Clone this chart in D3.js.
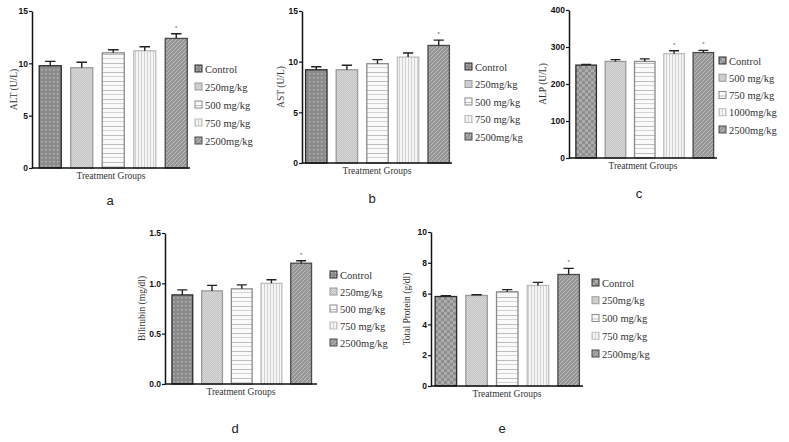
<!DOCTYPE html>
<html>
<head>
<meta charset="utf-8">
<script src="https://cdn.jsdelivr.net/npm/d3@7"></script>
<style>
  body { margin: 0; background: #fff; }
  .tick text { font-family: "Liberation Sans", Arial, sans-serif; font-weight: bold; font-size: 8.5px; fill: #111; }
  .axlabel { font-family: "Liberation Serif", "Times New Roman", serif; font-size: 9.5px; fill: #333; }
  .legend text { font-family: "Liberation Serif", "Times New Roman", serif; font-size: 10.5px; fill: #333; }
  .letter { font-family: "Liberation Sans", Arial, sans-serif; font-size: 13px; fill: #222; }
</style>
</head>
<body>
<div class="chart"></div>
<script>
// values (mean, SEM)
var groups = ["g1", "g2", "g3", "g4", "g5"];
var legendMain = ["Control", "250mg/kg", "500 mg/kg", "750 mg/kg", "2500mg/kg"];
var legendALP = ["Control", "500 mg/kg", "750 mg/kg", "1000mg/kg", "2500mg/kg"];

var altMean = [9.77, 9.58, 11.0, 11.2, 12.38];
var altSem = [0.42, 0.52, 0.3, 0.38, 0.44];
var altTicks = [0, 5, 10, 15];

var astMean = [9.2, 9.2, 9.8, 10.45, 11.6];
var astSem = [0.3, 0.45, 0.4, 0.4, 0.53];
var astTicks = [0, 5, 10, 15];

var alpMean = [251, 261, 261, 282, 285];
var alpSem = [2, 5, 7, 8, 6];
var alpTicks = [0, 100, 200, 300, 400];

var bilMean = [0.885, 0.925, 0.945, 1.0, 1.2];
var bilSem = [0.05, 0.055, 0.04, 0.035, 0.025];
var bilTicks = [0, 0.5, 1.0, 1.5];

var tpMean = [5.81, 5.88, 6.12, 6.53, 7.24];
var tpSem = [0.05, 0.05, 0.14, 0.2, 0.4];
var tpTicks = [0, 2, 4, 6, 8, 10];

var svg = d3.select(".chart").append("svg")
    .attr("width", 789)
    .attr("height", 442);

// fill patterns
var defs = svg.append("defs");

function pat(id, w, h, bg) {
    var p = defs.append("pattern")
        .attr("id", id)
        .attr("patternUnits", "userSpaceOnUse")
        .attr("width", w)
        .attr("height", h);
    p.append("rect").attr("width", w).attr("height", h).attr("fill", bg);
    return p;
}

var dots = pat("dots", 4, 4, "#8b8b8b");
dots.append("rect").attr("x", 1).attr("y", 1).attr("width", 1.5).attr("height", 1.5).attr("fill", "#b8b8b8");

var checker = pat("checker", 6, 6, "#8e8e8e");
checker.append("rect").attr("width", 3).attr("height", 3).attr("fill", "#acacac");
checker.append("rect").attr("x", 3).attr("y", 3).attr("width", 3).attr("height", 3).attr("fill", "#acacac");

var fine = pat("fine", 2, 2, "#c4c4c4");
fine.append("rect").attr("width", 1).attr("height", 1).attr("fill", "#d8d8d8");
fine.append("rect").attr("x", 1).attr("y", 1).attr("width", 1).attr("height", 1).attr("fill", "#d8d8d8");

var horiz = pat("horiz", 6, 9, "#fafafa");
horiz.append("rect").attr("y", 0).attr("width", 6).attr("height", 1).attr("fill", "#bdbdbd");
horiz.append("rect").attr("y", 4).attr("width", 6).attr("height", 1).attr("fill", "#d4d4d4");

var vert = pat("vert", 3, 6, "#f6f6f6");
vert.append("rect").attr("x", 0).attr("width", 1).attr("height", 6).attr("fill", "#d0d0d0");

var hatch = pat("hatch", 4, 4, "#979797");
hatch.append("path")
    .attr("d", "M-1,1 l2,-2 M0,4 l4,-4 M3,5 l2,-2")
    .attr("stroke", "#bcbcbc")
    .attr("stroke-width", 1);

var strokes = ["#2a2a2a", "#9a9a9a", "#8a8a8a", "#bdbdbd", "#4a4a4a"];

function drawPanel(cfg) {
    var g = svg.append("g");

    var x = d3.scaleBand()
        .domain(groups)
        .range([cfg.bx0, cfg.bx1])
        .paddingInner(0.3)
        .paddingOuter(0.15);

    var y = d3.scaleLinear()
        .domain([0, cfg.ticks[cfg.ticks.length - 1]])
        .range([cfg.yb, cfg.yt]);

    var data = groups.map(function(k, i) {
        return {key: k, mean: cfg.mean[i], sem: cfg.sem[i], fill: cfg.fills[i], stroke: strokes[i], star: cfg.stars.indexOf(i) >= 0};
    });

    // bars
    g.selectAll(".bar")
        .data(data)
        .enter()
        .append("rect")
        .attr("class", "bar")
        .attr("x", function(d) { return x(d.key); })
        .attr("width", x.bandwidth())
        .attr("y", function(d) { return y(d.mean); })
        .attr("height", function(d) { return cfg.yb - y(d.mean); })
        .attr("fill", function(d) { return "url(#" + d.fill + ")"; })
        .attr("stroke", function(d) { return d.stroke; })
        .attr("stroke-width", 1.3);

    // error bars (upper only)
    var cap = x.bandwidth() * 0.24;
    g.selectAll(".err")
        .data(data)
        .enter()
        .append("path")
        .attr("class", "err")
        .attr("d", function(d) {
            var cx = x(d.key) + x.bandwidth() / 2;
            return "M" + cx + "," + y(d.mean) + "V" + y(d.mean + d.sem) +
                "M" + (cx - cap) + "," + y(d.mean + d.sem) + "H" + (cx + cap);
        })
        .attr("fill", "none")
        .attr("stroke", "#222")
        .attr("stroke-width", 1.4);

    g.selectAll(".star")
        .data(data.filter(function(d) { return d.star; }))
        .enter()
        .append("text")
        .attr("class", "star")
        .attr("x", function(d) { return x(d.key) + x.bandwidth() / 2; })
        .attr("y", function(d) { return y(d.mean + d.sem) - 4; })
        .attr("text-anchor", "middle")
        .style("font-family", "Liberation Sans, sans-serif")
        .style("font-size", "6px")
        .attr("fill", "#555")
        .text("*");

    // axes
    var yAxis = d3.axisLeft(y)
        .tickValues(cfg.ticks)
        .tickFormat(cfg.fmt)
        .tickSize(3)
        .tickSizeOuter(0)
        .tickPadding(1);

    var yAxisGroup = g.append("g")
        .attr("class", "axis y-axis")
        .attr("transform", "translate(" + cfg.ax + ",0)")
        .call(yAxis);
    yAxisGroup.select(".domain").attr("stroke", "#111").attr("stroke-width", 1.5);
    yAxisGroup.selectAll(".tick line").attr("stroke", "#111").attr("stroke-width", 1.2);

    g.append("line")
        .attr("x1", cfg.ax)
        .attr("x2", cfg.axEnd)
        .attr("y1", cfg.yb)
        .attr("y2", cfg.yb)
        .attr("stroke", "#111")
        .attr("stroke-width", 1.5);

    g.append("text")
        .attr("class", "axlabel")
        .attr("transform", "translate(" + cfg.ylx + "," + ((cfg.yt + cfg.yb) / 2) + ") rotate(-90)")
        .attr("text-anchor", "middle")
        .text(cfg.ylabel);

    g.append("text")
        .attr("class", "axlabel")
        .attr("x", (cfg.ax + cfg.axEnd) / 2)
        .attr("y", cfg.yb + 11)
        .attr("text-anchor", "middle")
        .text("Treatment Groups");

    // legend
    var leg = g.append("g").attr("class", "legend");
    var items = leg.selectAll("g")
        .data(cfg.legend)
        .enter()
        .append("g")
        .attr("transform", function(d, i) { return "translate(" + cfg.lx + "," + (cfg.ly + i * cfg.lstep) + ")"; });
    items.append("rect")
        .attr("x", 0)
        .attr("y", -4)
        .attr("width", 7)
        .attr("height", 7)
        .attr("fill", function(d, i) { return "url(#" + cfg.fills[i] + ")"; })
        .attr("stroke", function(d, i) { return strokes[i]; })
        .attr("stroke-width", 1);
    items.append("text")
        .attr("x", 10)
        .attr("y", 3.5)
        .text(function(d) { return d; });

    g.append("text")
        .attr("class", "letter")
        .attr("x", cfg.letterX)
        .attr("y", cfg.letterY)
        .attr("text-anchor", "middle")
        .text(cfg.letter);
}

var fillsDots = ["dots", "fine", "horiz", "vert", "hatch"];
var fillsChecker = ["checker", "fine", "horiz", "vert", "hatch"];

drawPanel({mean: altMean, sem: altSem, ticks: altTicks, fmt: d3.format("d"), stars: [4],
    bx0: 34.5, bx1: 192, ax: 32, axEnd: 190, yt: 11, yb: 168, ylx: 17, ylabel: "ALT (U/L)",
    fills: fillsDots, legend: legendMain, lx: 195, ly: 69, lstep: 18, letter: "a", letterX: 110, letterY: 205});

drawPanel({mean: astMean, sem: astSem, ticks: astTicks, fmt: d3.format("d"), stars: [4],
    bx0: 301, bx1: 454, ax: 302, axEnd: 452, yt: 11, yb: 163, ylx: 284, ylabel: "AST (U/L)",
    fills: fillsDots, legend: legendMain, lx: 465, ly: 67, lstep: 17.5, letter: "b", letterX: 372, letterY: 203});

drawPanel({mean: alpMean, sem: alpSem, ticks: alpTicks, fmt: d3.format("d"), stars: [3, 4],
    bx0: 571.5, bx1: 718, ax: 569, axEnd: 717, yt: 10, yb: 158, ylx: 546, ylabel: "ALP (U/L)",
    fills: fillsChecker, legend: legendALP, lx: 719, ly: 61, lstep: 17.25, letter: "c", letterX: 639, letterY: 198});

drawPanel({mean: bilMean, sem: bilSem, ticks: bilTicks, fmt: d3.format(".1f"), stars: [4],
    bx0: 167.5, bx1: 316, ax: 165, axEnd: 317, yt: 233, yb: 384, ylx: 145, ylabel: "Bilirubin (mg/dl)",
    fills: fillsDots, legend: legendMain, lx: 330, ly: 275, lstep: 17, letter: "d", letterX: 235, letterY: 433});

drawPanel({mean: tpMean, sem: tpSem, ticks: tpTicks, fmt: d3.format("d"), stars: [4],
    bx0: 430.5, bx1: 584, ax: 431, axEnd: 583, yt: 232, yb: 386, ylx: 410, ylabel: "Total Protein (g/dl)",
    fills: fillsChecker, legend: legendMain, lx: 592, ly: 283, lstep: 17.75, letter: "e", letterX: 502, letterY: 433});
</script>
</body>
</html>
